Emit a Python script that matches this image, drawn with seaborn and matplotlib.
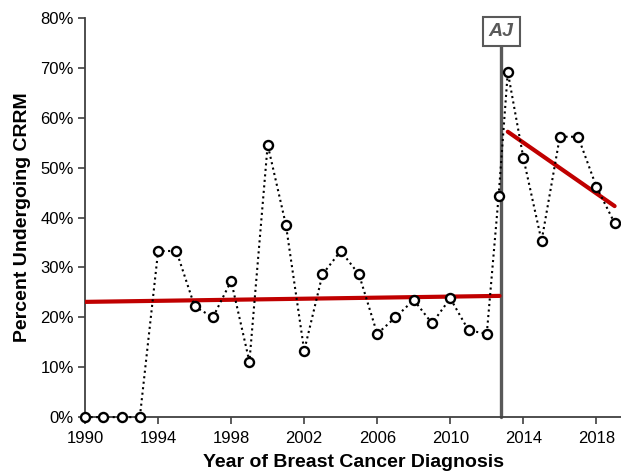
"""
CRRM rates by year of breast cancer diagnosis, with the AJ marker.
"""

import matplotlib
matplotlib.use("Agg")
import matplotlib.pyplot as plt
from matplotlib.ticker import PercentFormatter
import seaborn as sns
import pandas as pd

# Data
years = [1990, 1991, 1992, 1993, 1994, 1995, 1996, 1997, 1998, 1999,
         2000, 2001, 2002, 2003, 2004, 2005, 2006, 2007, 2008, 2009,
         2010, 2011, 2012, 2012.65, 2013.15, 2014, 2015, 2016, 2017,
         2018, 2019]
pct_crrm = [0, 0, 0, 0, 33.3, 33.3, 22.2, 20.0, 27.3, 11.1,
            54.6, 38.5, 13.3, 28.6, 33.3, 28.6, 16.7, 20.0, 23.5, 18.8,
            23.8, 17.4, 16.7, 44.4, 69.2, 52.0, 35.3, 56.2, 56.2,
            46.2, 38.9]

trend_pre_x = [1990, 2012.7]
trend_pre_y = [23.1, 24.3]
trend_post_x = [2013.15, 2019]
trend_post_y = [57.2, 42.3]

aj_year = 2012.8
aj_label = "AJ"

x_ticks = [1990, 1994, 1998, 2002, 2006, 2010, 2014, 2018]
y_ticks = [0, 10, 20, 30, 40, 50, 60, 70, 80]

sns.set_style("ticks")
plt.rcParams['font.family'] = ['Liberation Sans', 'DejaVu Sans']
plt.rcParams['text.color'] = 'black'
plt.rcParams['axes.labelcolor'] = 'black'

fig = plt.figure(figsize=(6.21, 4.74), dpi=100)
ax = fig.add_axes([0.137, 0.120, 0.863, 0.842])

df = pd.DataFrame({'year': years, 'pct': pct_crrm})

# AJ vertical line
ax.plot([aj_year, aj_year], [0, 75], color='#595959', linewidth=2.4,
        zorder=2, clip_on=False)
ax.text(aj_year, 77.3, aj_label, ha='center', va='center', fontsize=14,
        fontweight='bold', fontstyle='italic', color='#595959',
        bbox=dict(boxstyle='square,pad=0.32', facecolor='white',
                  edgecolor='#595959', linewidth=1.5), zorder=6)

# Trend lines
ax.plot(trend_pre_x, trend_pre_y, color='#C00000', linewidth=3, zorder=3)
ax.plot(trend_post_x, trend_post_y, color='#C00000', linewidth=3, zorder=3)

# Yearly values
sns.lineplot(data=df, x='year', y='pct', ax=ax, color='black',
             linestyle=':', linewidth=1.5, marker='o', markersize=6.5,
             markerfacecolor='white', markeredgecolor='black',
             markeredgewidth=1.7, clip_on=False, zorder=4)

ax.set_xlim(1990, 2019.35)
ax.set_ylim(0, 80)
ax.set_xticks(x_ticks)
ax.set_yticks(y_ticks)
ax.yaxis.set_major_formatter(PercentFormatter(decimals=0))
ax.tick_params(axis='both', labelsize=12, length=5, width=1.2,
               color='#404040', labelcolor='black', pad=3)
ax.tick_params(axis='x', pad=5)

for side in ['top', 'right']:
    ax.spines[side].set_visible(False)
for side in ['left', 'bottom']:
    ax.spines[side].set_color('#404040')
    ax.spines[side].set_linewidth(1.3)

ax.set_xlabel('Year of Breast Cancer Diagnosis', fontsize=14,
              fontweight='bold', labelpad=6)
ax.set_ylabel('Percent Undergoing CRRM', fontsize=14, fontweight='bold',
              labelpad=7)

plt.savefig('out.png', dpi=100)
plt.close()
